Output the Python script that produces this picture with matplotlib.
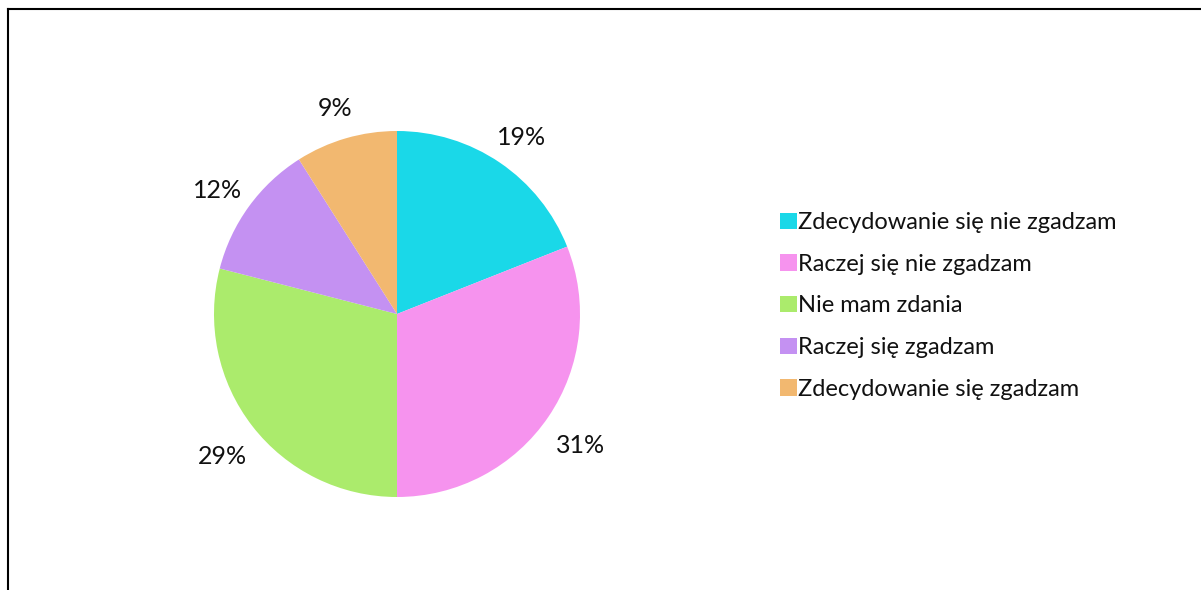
import matplotlib.pyplot as plt
import matplotlib.transforms as mtransforms
from matplotlib.patches import Patch
from matplotlib.lines import Line2D

categories = [
    "Zdecydowanie się nie zgadzam",
    "Raczej się nie zgadzam",
    "Nie mam zdania",
    "Raczej się zgadzam",
    "Zdecydowanie się zgadzam",
]
shares = [19, 31, 29, 12, 9]
colors = ["#1ad8e8", "#f693ee", "#abeb6c", "#c491f2", "#f2b870"]

plt.rcParams["font.family"] = ["Lato", "DejaVu Sans"]

W, H = 1201, 590
fig = plt.figure(figsize=(W / 100, H / 100), dpi=100)

# pie axes: centre (397, 314) px, radius 183 px
cx, cy, r = 397, 314, 183
ax = fig.add_axes([(cx - r) / W, (H - cy - r) / H, 2 * r / W, 2 * r / H])
wedges, texts, autotexts = ax.pie(
    shares,
    colors=colors,
    startangle=90,
    counterclock=False,
    radius=1,
    autopct=lambda p: f"{p:.0f}%",
    pctdistance=1.21,
    wedgeprops={"linewidth": 0},
    textprops={"fontsize": 18, "color": "#111111"},
)
# nudge percentage labels slightly down
shift = mtransforms.ScaledTranslation(0, -5 / 100, fig.dpi_scale_trans)
for t in autotexts:
    t.set_va("center_baseline")
    t.set_transform(t.get_transform() + shift)
ax.set_xlim(-1, 1)
ax.set_ylim(-1, 1)
ax.set_aspect("equal")
ax.axis("off")

handles = [Patch(facecolor=c, edgecolor="none") for c in colors]
fig.legend(
    handles,
    categories,
    loc="center left",
    bbox_to_anchor=(759 / W, 1 - 306 / H),
    frameon=False,
    fontsize=17,
    handlelength=0.7,
    handleheight=0.7,
    handletextpad=0.05,
    labelspacing=0.87,
    labelcolor="#111111",
)

# chart border (top and left edges)
fig.add_artist(Line2D([8 / W, 1], [1 - 9 / H, 1 - 9 / H], color="black", lw=1.5))
fig.add_artist(Line2D([8 / W, 8 / W], [0, 1 - 9 / H], color="black", lw=1.5))

fig.savefig("out.png", dpi=100, facecolor="white")
